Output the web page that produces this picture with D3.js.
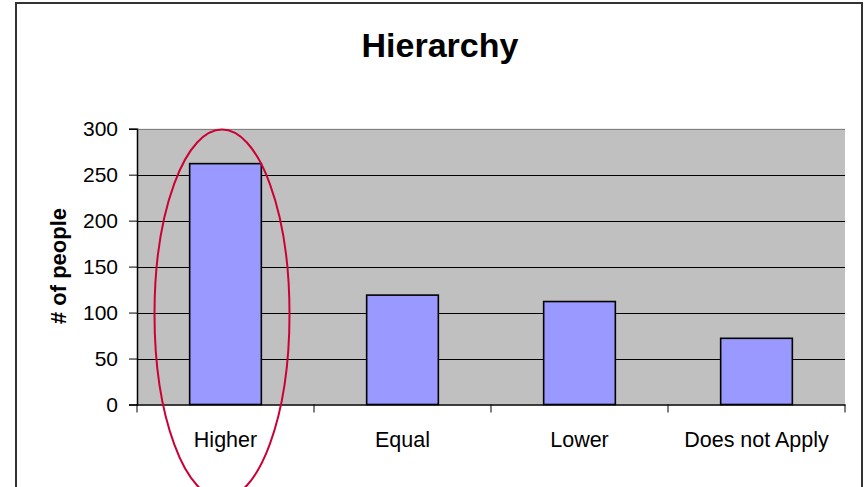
<!DOCTYPE html>
<html><head><meta charset="utf-8">
<script src="https://cdn.jsdelivr.net/npm/d3@7"></script>
<style>html,body{margin:0;padding:0;background:#fff;}svg{display:block;}</style>
</head><body>
<script>
const categories = ["Higher", "Equal", "Lower", "Does not Apply"];
const values = [262, 119, 112, 72];
const yTicks = [0, 50, 100, 150, 200, 250, 300];
const title = "Hierarchy";
const yLabel = "# of people";

const W = 866, H = 487;
const m = {left: 137, right: 845, top: 128.7, bottom: 404.5};
const svg = d3.select("body").append("svg").attr("width", W).attr("height", H);

// outer frame (top, left, right)
svg.append("path").attr("d", `M16,490 L16,3 L862,3 L862,490`)
  .attr("fill", "none").attr("stroke", "#333").attr("stroke-width", 2);

const x = d3.scaleBand().domain(categories).range([m.left, m.right]);
const y = d3.scaleLinear().domain([0, 300]).range([m.bottom, m.top]);

// plot background
svg.append("rect").attr("x", m.left).attr("y", m.top)
  .attr("width", m.right - m.left).attr("height", m.bottom - m.top).attr("fill", "#c0c0c0");

// gridlines
svg.append("g").selectAll("line").data(yTicks.filter(d => d > 0)).join("line")
  .attr("x1", m.left).attr("x2", m.right)
  .attr("y1", d => Math.round(y(d)) + 0.5).attr("y2", d => Math.round(y(d)) + 0.5)
  .attr("stroke", d => d === 300 ? "#808080" : "#000").attr("stroke-width", 1);

// bars
const bw = x.bandwidth() * 0.405;
svg.append("g").selectAll("rect").data(categories).join("rect")
  .attr("x", (d) => x(d) + (x.bandwidth() - bw) / 2)
  .attr("y", (d, i) => y(values[i]))
  .attr("width", bw)
  .attr("height", (d, i) => y(0) - y(values[i]))
  .attr("fill", "#9999ff").attr("stroke", "#000").attr("stroke-width", 1.6);

// y axis
const yAxis = svg.append("g").attr("transform", `translate(${m.left},0)`)
  .call(d3.axisLeft(y).tickValues(yTicks).tickSize(8).tickPadding(11));
yAxis.select(".domain").attr("stroke", "#000").attr("stroke-width", 1.5);
yAxis.selectAll(".tick line").attr("stroke", "#000");
yAxis.selectAll("text").attr("font-family", "Liberation Sans, Arial, sans-serif")
  .attr("font-size", 21).attr("fill", "#000");

// x axis
const xAxis = svg.append("g").attr("transform", `translate(0,${m.bottom})`)
  .call(d3.axisBottom(x).tickSize(0).tickPadding(27));
xAxis.select(".domain").attr("stroke", "#000").attr("stroke-width", 1.5);
xAxis.selectAll("text").attr("font-family", "Liberation Sans, Arial, sans-serif")
  .attr("font-size", 21.5).attr("fill", "#000").attr("dy", "0.71em");
// category boundary ticks
const bounds = categories.map(c => x(c)).concat([m.right]);
svg.append("g").selectAll("line").data(bounds).join("line")
  .attr("x1", d => d).attr("x2", d => d).attr("y1", m.bottom).attr("y2", m.bottom + 8)
  .attr("stroke", "#000").attr("stroke-width", 1);

// title
svg.append("text").attr("x", 440).attr("y", 57).attr("text-anchor", "middle")
  .attr("font-family", "Liberation Sans, Arial, sans-serif").attr("font-weight", "bold")
  .attr("font-size", 34).text(title);

// y label
svg.append("text").attr("transform", "translate(66,266) rotate(-90)")
  .attr("text-anchor", "middle")
  .attr("font-family", "Liberation Sans, Arial, sans-serif").attr("font-weight", "bold")
  .attr("font-size", 22).text(yLabel);

// highlight ellipse around first category
svg.append("ellipse").attr("cx", x(categories[0]) + x.bandwidth() / 2 - 3.5).attr("cy", 314)
  .attr("rx", 67.5).attr("ry", 184.5)
  .attr("fill", "none").attr("stroke", "#cc0033").attr("stroke-width", 2);
</script>
</body></html>
